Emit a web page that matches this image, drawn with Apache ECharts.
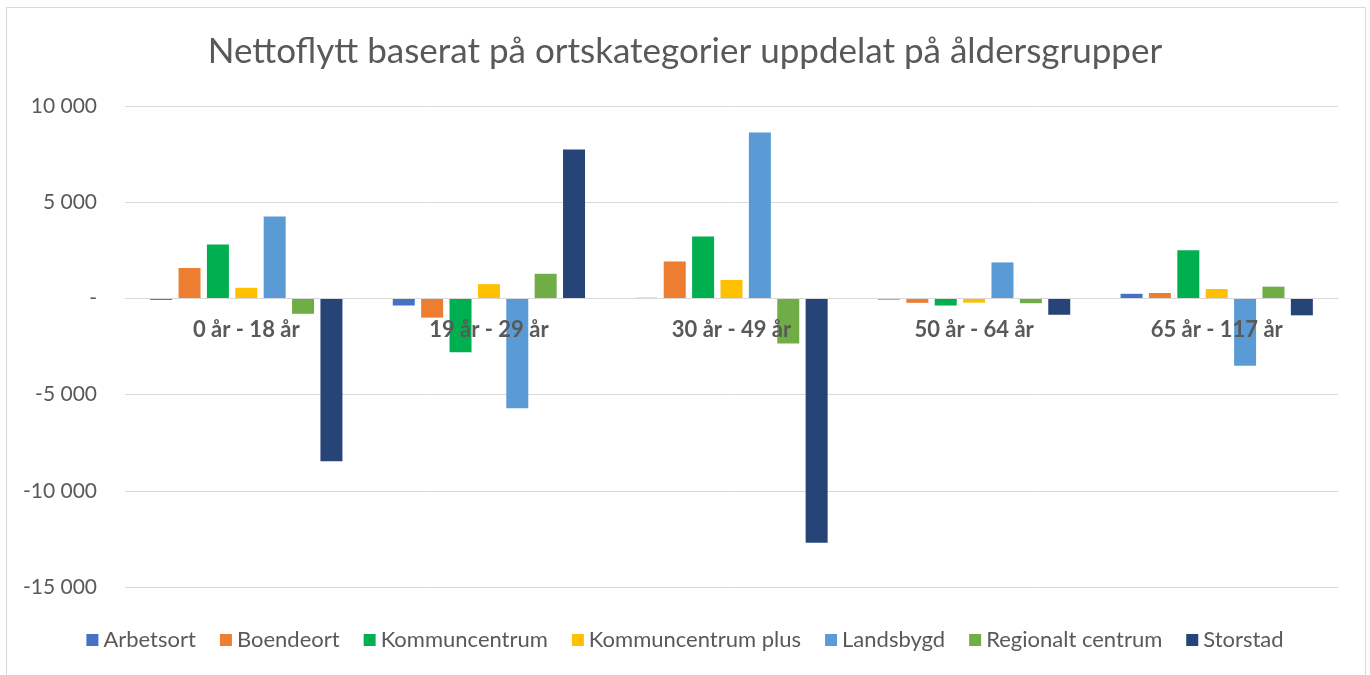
<!DOCTYPE html>
<html>
<head>
<meta charset="utf-8">
<script src="https://cdn.jsdelivr.net/npm/echarts@6/dist/echarts.min.js"></script>
<style>
  html, body { margin: 0; padding: 0; background: #fff; }
  #wrap { position: absolute; left: 6px; top: 7px; width: 1360px; height: 670px; border: 1px solid #d9d9d9; box-sizing: border-box; }
  #chart { position: absolute; left: 0; top: 0; width: 1370px; height: 675px; }
</style>
</head>
<body>
<div id="wrap"></div>
<div id="chart"></div>
<script>
const categories = ['0 år - 18 år', '19 år - 29 år', '30 år - 49 år', '50 år - 64 år', '65 år - 117 år'];
const seriesNames = ['Arbetsort', 'Boendeort', 'Kommuncentrum', 'Kommuncentrum plus', 'Landsbygd', 'Regionalt centrum', 'Storstad'];
const arbetsort = [-80, -370, 30, -60, 240];
const boendeort = [1580, -1000, 1920, -230, 280];
const kommuncentrum = [2800, -2800, 3220, -370, 2500];
const kommuncentrumPlus = [550, 740, 960, -220, 490];
const landsbygd = [4260, -5710, 8620, 1870, -3500];
const regionaltCentrum = [-800, 1280, -2350, -250, 610];
const storstad = [-8460, 7740, -12700, -850, -880];
const yTicks = [-15000, -10000, -5000, 0, 5000, 10000];
const colors = ['#4472C4', '#ED7D31', '#00B050', '#FFC000', '#5B9BD5', '#70AD47', '#264478'];

const values = [arbetsort, boendeort, kommuncentrum, kommuncentrumPlus, landsbygd, regionaltCentrum, storstad];

const chart = echarts.init(document.getElementById('chart'));

// grid box
const gridTop = 106, gridBottom = 88, chartH = 675;
const plotH = chartH - gridTop - gridBottom;
const yMin = yTicks[0], yMax = yTicks[yTicks.length - 1];
// move category axis up to the zero line
const zeroOffset = -(plotH * (0 - yMin) / (yMax - yMin));

function fmt(v) {
    if (v === 0) return '-';
    const s = String(Math.abs(v)).replace(/\B(?=(\d{3})+(?!\d))/g, ' ');
    return (v < 0 ? '-' : '') + s;
}

chart.setOption({
    animation: false,
    textStyle: { fontFamily: 'Lato' },
    color: colors,
    title: {
        text: 'Nettoflytt baserat på ortskategorier uppdelat på åldersgrupper',
        left: 'center',
        top: 29,
        textStyle: { fontSize: 35, fontWeight: 'normal', color: '#595959', fontFamily: 'Lato' }
    },
    legend: {
        bottom: 19,
        left: 'center',
        itemWidth: 12,
        itemHeight: 12,
        itemGap: 24,
        icon: 'rect',
        textStyle: { fontSize: 22, color: '#595959', fontFamily: 'Lato' },
        data: seriesNames
    },
    grid: { left: 125, right: 32, top: gridTop, bottom: gridBottom },
    xAxis: {
        type: 'category',
        data: categories,
        z: 5,
        position: 'bottom',
        offset: zeroOffset,
        axisLine: { onZero: false, lineStyle: { color: '#d9d9d9' } },
        axisTick: { show: false },
        axisLabel: { fontSize: 22, fontWeight: 'bold', color: '#595959', margin: 21, fontFamily: 'Lato' }
    },
    yAxis: {
        type: 'value',
        min: yMin,
        max: yMax,
        interval: 5000,
        axisLine: { show: false },
        axisTick: { show: false },
        splitLine: { lineStyle: { color: '#d9d9d9' } },
        axisLabel: { fontSize: 21, color: '#595959', margin: 28, formatter: fmt, fontFamily: 'Lato' }
    },
    series: seriesNames.map((name, i) => ({
        name: name,
        type: 'bar',
        data: values[i],
        barWidth: 22,
        barGap: '29%',
        itemStyle: { color: colors[i] }
    }))
});
</script>
</body>
</html>
